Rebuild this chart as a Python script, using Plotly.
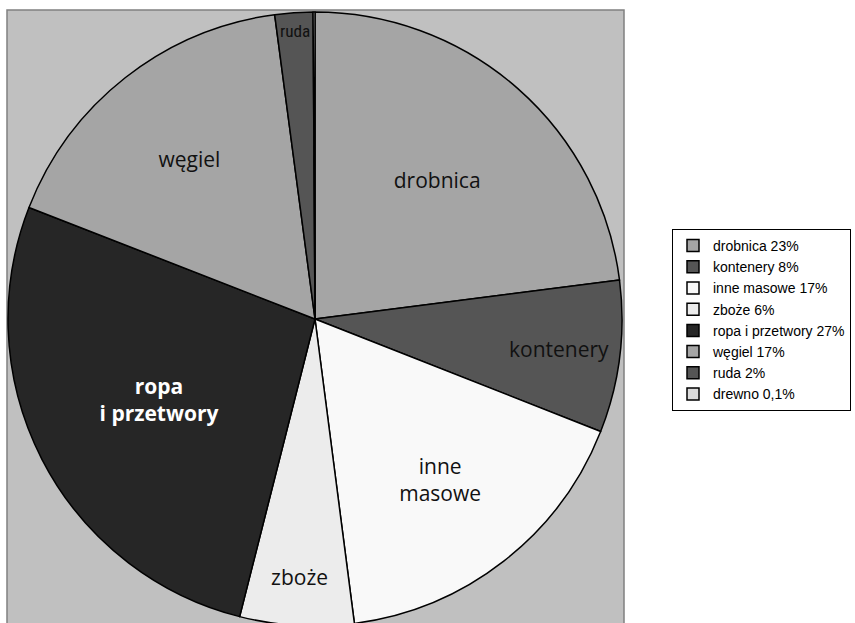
import plotly.graph_objects as go

categories = ["drobnica", "kontenery", "inne masowe", "zboże", "ropa i przetwory", "węgiel", "ruda", "drewno"]
shares = [23, 8, 17, 6, 27, 17, 2, 0.1]
share_labels = ["23%", "8%", "17%", "6%", "27%", "17%", "2%", "0,1%"]
slice_text = ["drobnica", "kontenery", "inne<br>masowe", "zboże", "<b>ropa<br>i przetwory</b>", "węgiel", "ruda", ""]
colors = ["#a5a5a5", "#555555", "#f9f9f9", "#ececec", "#262626", "#a5a5a5", "#555555", "#dcdcdc"]
text_colors = ["#111111", "#111111", "#111111", "#111111", "#ffffff", "#111111", "#111111", "#111111"]
text_fonts = ["Open Sans"] * 6 + ["Liberation Sans Narrow, Roboto Condensed, DejaVu Sans Condensed, Open Sans", "Open Sans"]

legend_names = [f"{c} {s}" for c, s in zip(categories, share_labels)]

W, H = 855, 640

fig = go.Figure()
fig.add_trace(go.Pie(
    labels=legend_names,
    values=shares,
    text=slice_text,
    textinfo="text",
    textposition="inside",
    insidetextorientation="horizontal",
    sort=False,
    direction="clockwise",
    rotation=0,
    marker=dict(colors=colors, line=dict(color="#000000", width=1.5)),
    textfont=dict(family=text_fonts, size=21, color=text_colors),
    domain=dict(x=[8 / W, 622 / W], y=[(H - 626) / H, (H - 12) / H]),
    hoverinfo="label",
))

fig.add_shape(type="rect", xref="paper", yref="paper",
              x0=7 / W, x1=624 / W, y0=-0.05, y1=(H - 10) / H,
              fillcolor="#c0c0c0", line=dict(color="#808080", width=1.5), layer="below")

fig.update_layout(
    width=W, height=H,
    margin=dict(l=0, r=0, t=0, b=0),
    paper_bgcolor="white",
    plot_bgcolor="white",
    showlegend=True,
    legend=dict(
        x=672 / W, y=(H - 320) / H, xanchor="left", yanchor="middle",
        bgcolor="white", bordercolor="#000000", borderwidth=1,
        font=dict(family="Liberation Sans", size=14, color="#000000"),
        traceorder="normal",
    ),
)

fig.write_html("out.html", config={"displayModeBar": False},
               post_script="document.body.style.margin='0';")
